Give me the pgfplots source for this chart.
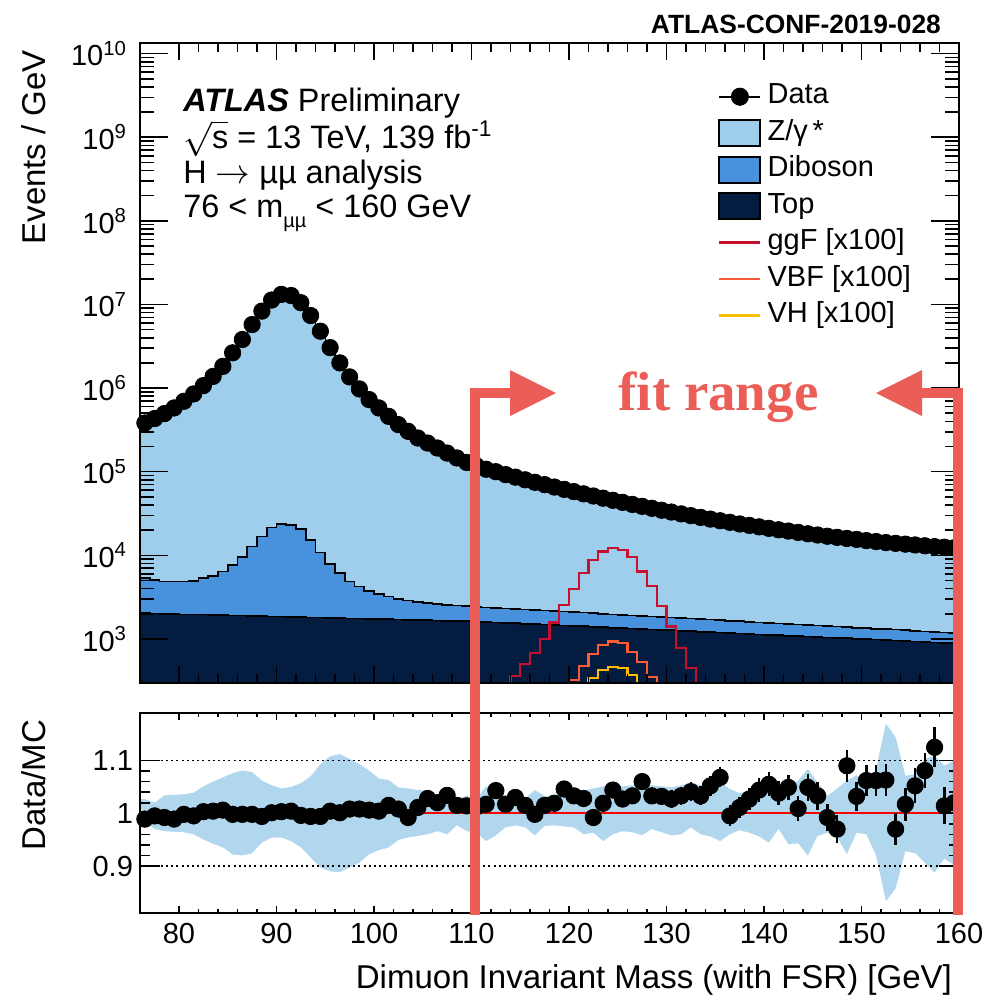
\documentclass[border=0pt]{standalone}
\usepackage{fontspec}
\setmainfont{Liberation Sans}
\newfontfamily\serifbf{Liberation Serif}
\usepackage{pgfplots}
\usepackage{pgfplotstable}
\pgfplotsset{compat=1.18, /pgf/number format/assume math mode=true}

\definecolor{zcol}{RGB}{158,206,235}
\definecolor{dibcol}{RGB}{72,145,220}
\definecolor{topcol}{RGB}{4,28,64}
\definecolor{bandcol}{RGB}{176,215,238}
\definecolor{ggfcol}{RGB}{200,16,46}
\definecolor{vbfcol}{RGB}{255,90,54}
\definecolor{vhcol}{RGB}{255,190,0}
\definecolor{fitred}{RGB}{235,94,88}

\pgfplotstableread{
lo data dib top
76 3.83e5 5.33e3 2.03e3
77 4.32e5 5.09e3 2.01e3
78 4.95e5 4.86e3 2.00e3
79 5.79e5 4.86e3 1.99e3
80 6.95e5 4.86e3 1.97e3
81 8.51e5 4.95e3 1.96e3
82 1.07e6 5.33e3 1.95e3
83 1.38e6 5.68e3 1.93e3
84 1.82e6 6.40e3 1.92e3
85 2.64e6 7.69e3 1.91e3
86 3.81e6 9.51e3 1.90e3
87 5.75e6 1.28e4 1.88e3
88 8.32e6 1.68e4 1.87e3
89 1.13e7 2.15e4 1.86e3
90 1.32e7 2.38e4 1.85e3
91 1.28e7 2.32e4 1.83e3
92 1.05e7 2.06e4 1.82e3
93 7.38e6 1.53e4 1.81e3
94 4.79e6 1.08e4 1.80e3
95 3.05e6 7.83e3 1.78e3
96 2.00e6 6.12e3 1.77e3
97 1.36e6 4.86e3 1.76e3
98 9.77e5 4.23e3 1.75e3
99 7.28e5 3.76e3 1.74e3
100 5.79e5 3.43e3 1.73e3
101 4.59e5 3.21e3 1.72e3
102 3.66e5 3.01e3 1.70e3
103 3.04e5 2.88e3 1.69e3
104 2.53e5 2.77e3 1.68e3
105 2.20e5 2.67e3 1.67e3
106 1.92e5 2.60e3 1.66e3
107 1.67e5 2.55e3 1.65e3
108 1.46e5 2.51e3 1.64e3
109 1.29e5 2.48e3 1.63e3
110 1.18e5 2.45e3 1.62e3
111 1.07e5 2.38e3 1.60e3
112 1.00e5 2.35e3 1.58e3
113 9.23e4 2.31e3 1.56e3
114 8.61e4 2.28e3 1.54e3
115 8.00e4 2.24e3 1.52e3
116 7.47e4 2.21e3 1.51e3
117 7.00e4 2.18e3 1.49e3
118 6.55e4 2.15e3 1.47e3
119 6.15e4 2.12e3 1.45e3
120 5.78e4 2.09e3 1.43e3
121 5.43e4 2.06e3 1.42e3
122 5.12e4 2.03e3 1.40e3
123 4.82e4 2.00e3 1.38e3
124 4.55e4 1.97e3 1.36e3
125 4.30e4 1.94e3 1.35e3
126 4.06e4 1.91e3 1.33e3
127 3.85e4 1.88e3 1.32e3
128 3.65e4 1.86e3 1.30e3
129 3.46e4 1.83e3 1.28e3
130 3.29e4 1.80e3 1.27e3
131 3.13e4 1.78e3 1.25e3
132 2.98e4 1.75e3 1.24e3
133 2.84e4 1.73e3 1.22e3
134 2.71e4 1.70e3 1.21e3
135 2.59e4 1.67e3 1.19e3
136 2.48e4 1.65e3 1.18e3
137 2.37e4 1.63e3 1.16e3
138 2.28e4 1.60e3 1.15e3
139 2.19e4 1.58e3 1.13e3
140 2.10e4 1.56e3 1.12e3
141 2.02e4 1.53e3 1.11e3
142 1.95e4 1.51e3 1.09e3
143 1.88e4 1.49e3 1.08e3
144 1.81e4 1.47e3 1.07e3
145 1.75e4 1.45e3 1.05e3
146 1.69e4 1.43e3 1.04e3
147 1.64e4 1.41e3 1.03e3
148 1.59e4 1.38e3 1.02e3
149 1.55e4 1.36e3 1.00e3
150 1.50e4 1.34e3 991
151 1.46e4 1.32e3 979
152 1.42e4 1.31e3 967
153 1.39e4 1.29e3 955
154 1.36e4 1.27e3 943
155 1.33e4 1.25e3 932
156 1.30e4 1.23e3 921
157 1.27e4 1.21e3 909
158 1.25e4 1.19e3 898
159 1.23e4 1.18e3 887
160 1.23e4 1.18e3 887
}\upper

\pgfplotstableread{
lo ggf vbf vh
112 100 100 100
113 200 100 100
114 361 100 100
115 497 100 100
116 686 100 100
117 991 100 100
118 1570 100 100
119 2550 200 100
120 3930 323 100
121 6120 475 200
122 8830 661 338
123 11100 847 425
124 12200 929 466
125 11600 887 446
126 9510 705 371
127 6400 535 200
128 4320 354 100
129 2480 200 100
130 1410 100 100
131 773 100 100
132 446 100 100
133 200 100 100
134 100 100 100
135 100 100 100
}\sig

\pgfplotstableread{
c r e
76.5 0.989 0.003
77.5 0.995 0.003
78.5 0.992 0.003
79.5 0.989 0.003
80.5 0.998 0.003
81.5 0.995 0.003
82.5 1.003 0.003
83.5 1.004 0.003
84.5 1.006 0.003
85.5 0.998 0.003
86.5 0.998 0.003
87.5 0.998 0.003
88.5 0.994 0.003
89.5 1.001 0.003
90.5 1.003 0.003
91.5 1.004 0.003
92.5 0.996 0.003
93.5 0.994 0.003
94.5 0.994 0.003
95.5 1.004 0.003
96.5 1.001 0.003
97.5 1.008 0.003
98.5 1.008 0.003
99.5 1.006 0.003
100.5 1.004 0.004
101.5 1.015 0.004
102.5 1.008 0.004
103.5 0.992 0.004
104.5 1.011 0.005
105.5 1.028 0.005
106.5 1.020 0.006
107.5 1.034 0.006
108.5 1.015 0.007
109.5 1.014 0.007
110.5 1.012 0.010
111.5 1.017 0.010
112.5 1.043 0.010
113.5 1.017 0.010
114.5 1.030 0.011
115.5 1.015 0.011
116.5 0.998 0.011
117.5 1.015 0.012
118.5 1.019 0.012
119.5 1.046 0.012
120.5 1.033 0.013
121.5 1.028 0.013
122.5 0.992 0.014
123.5 1.019 0.014
124.5 1.044 0.014
125.5 1.027 0.015
126.5 1.033 0.015
127.5 1.060 0.015
128.5 1.033 0.016
129.5 1.032 0.016
130.5 1.027 0.017
131.5 1.033 0.017
132.5 1.041 0.018
133.5 1.033 0.018
134.5 1.052 0.019
135.5 1.068 0.019
136.5 0.995 0.020
137.5 1.011 0.020
138.5 1.027 0.021
139.5 1.044 0.022
140.5 1.055 0.023
141.5 1.038 0.023
142.5 1.049 0.024
143.5 1.009 0.024
144.5 1.049 0.025
145.5 1.033 0.026
146.5 0.992 0.026
147.5 0.970 0.027
148.5 1.090 0.030
149.5 1.032 0.028
150.5 1.062 0.030
151.5 1.062 0.030
152.5 1.063 0.031
153.5 0.970 0.030
154.5 1.017 0.031
155.5 1.052 0.033
156.5 1.081 0.034
157.5 1.125 0.038
158.5 1.014 0.035
159.5 1.020 0.035
}\ratio

\pgfplotstableread{
c up lo
76 1.027 0.983
76.5 1.027 0.983
77.5 1.020 0.970
78.5 1.034 0.966
79.5 1.035 0.965
80.5 1.036 0.964
81.5 1.039 0.960
82.5 1.051 0.950
83.5 1.060 0.942
84.5 1.068 0.935
85.5 1.076 0.922
86.5 1.081 0.920
87.5 1.078 0.924
88.5 1.062 0.944
89.5 1.053 0.954
90.5 1.047 0.954
91.5 1.050 0.947
92.5 1.057 0.935
93.5 1.070 0.916
94.5 1.093 0.897
95.5 1.108 0.890
96.5 1.112 0.888
97.5 1.103 0.897
98.5 1.093 0.906
99.5 1.081 0.922
100.5 1.066 0.930
101.5 1.063 0.935
102.5 1.049 0.949
103.5 1.047 0.954
104.5 1.044 0.957
105.5 1.043 0.960
106.5 1.028 0.966
107.5 1.033 0.960
108.5 1.027 0.977
109.5 1.033 0.966
110.5 1.027 0.963
111.5 1.051 0.947
112.5 1.041 0.958
113.5 1.033 0.973
114.5 1.039 0.977
115.5 1.028 0.973
116.5 1.044 0.958
117.5 1.033 0.976
118.5 1.033 0.977
119.5 1.039 0.975
120.5 1.044 0.973
121.5 1.043 0.960
122.5 1.047 0.963
123.5 1.051 0.947
124.5 1.053 0.960
125.5 1.051 0.966
126.5 1.053 0.964
127.5 1.047 0.958
128.5 1.053 0.970
129.5 1.051 0.964
130.5 1.049 0.958
131.5 1.053 0.960
132.5 1.058 0.973
133.5 1.053 0.960
134.5 1.051 0.956
135.5 1.060 0.947
136.5 1.046 0.960
137.5 1.038 0.968
138.5 1.043 0.963
139.5 1.053 0.956
140.5 1.049 0.944
141.5 1.053 0.970
142.5 1.052 0.941
143.5 1.062 0.943
144.5 1.084 0.919
145.5 1.058 0.957
146.5 1.033 0.963
147.5 1.047 0.954
148.5 1.062 0.922
149.5 1.072 0.963
150.5 1.051 0.960
151.5 1.084 0.919
152.5 1.170 0.833
153.5 1.144 0.857
154.5 1.071 0.928
155.5 1.074 0.924
156.5 1.103 0.906
157.5 1.109 0.887
158.5 1.090 0.914
159.5 1.100 0.901
160 1.100 0.901
}\band

\begin{document}
\begin{tikzpicture}
\path[use as bounding box] (0pt,0pt) rectangle (496pt,-498pt);

% ---------------- upper panel ----------------
\begin{axis}[
  at={(70pt,-341.5pt)}, anchor=south west,
  scale only axis, width=409.5pt, height=320pt,
  xmin=76, xmax=160, ymode=log, ymin=297, ymax=1.34e10,
  xtick={80,90,100,110,120,130,140,150,160}, minor x tick num=4, xticklabels={},
  ytick={1e3,1e4,1e5,1e6,1e7,1e8,1e9,1e10},
  yticklabels={10\textsuperscript{3},10\textsuperscript{4},10\textsuperscript{5},10\textsuperscript{6},10\textsuperscript{7},10\textsuperscript{8},10\textsuperscript{9},10\textsuperscript{10}},
  tick align=inside, tick pos=both, axis on top,
  axis line style={line width=0.9pt},
  tick style={black, line width=0.8pt},
  major tick length=14pt, minor tick length=7pt,
  xtick style={/pgfplots/major tick length=8.5pt,/pgfplots/minor tick length=4.5pt},
  tick label style={font=\fontsize{14.5pt}{16pt}\selectfont},
  yticklabel style={xshift=-3pt},
  ylabel={Events / GeV},
  ylabel style={at={(axis description cs:-0.115,1)}, anchor=base east, font=\fontsize{16.5pt}{18pt}\selectfont},
  legend cell align=left,
  legend style={draw=none, fill=none, inner sep=0pt, outer sep=0pt,
    at={(rel axis cs:0.706,0.938)}, anchor=north west,
    font=\fontsize{14.5pt}{16pt}\selectfont, row sep=4.25pt,
    nodes={inner sep=0pt, text height=10.5pt, text depth=3.5pt},
    /tikz/every odd column/.append style={column sep=3pt}},
]
\addplot[fill=zcol, draw=black, line width=0.7pt, const plot mark left, forget plot]
  table[x=lo, y=data] {\upper} \closedcycle;
\addplot[fill=dibcol, draw=black, line width=0.8pt, const plot mark left, forget plot]
  table[x=lo, y=dib] {\upper} \closedcycle;
\addplot[fill=topcol, draw=black, line width=0.8pt, const plot mark left, forget plot]
  table[x=lo, y=top] {\upper} \closedcycle;
\addplot[ggfcol, line width=1.1pt, const plot mark left, forget plot] table[x=lo, y=ggf] {\sig};
\addplot[vbfcol, line width=1.1pt, const plot mark left, forget plot] table[x=lo, y=vbf] {\sig};
\addplot[vhcol, line width=1.1pt, const plot mark left, forget plot] table[x=lo, y=vh] {\sig};
\addplot[black, only marks, mark=*, mark size=4.1pt, mark options={fill=black}, restrict x to domain=76:160, forget plot]
  table[x expr=\thisrow{lo}+0.5, y=data] {\upper};

\addlegendimage{legend image code/.code={
  \draw[line width=1pt] (0pt,0pt) -- (20.5pt,0pt);
  \draw[line width=1pt] (10.25pt,-4.5pt) -- (10.25pt,4.5pt);
  \fill (10.25pt,0pt) circle (4.3pt);}}
\addlegendentry{Data}
\addlegendimage{legend image code/.code={\filldraw[fill=zcol, draw=black, line width=1pt] (0pt,-6.5pt) rectangle (20.5pt,6.5pt);}}
\addlegendentry{Z/γ\,*}
\addlegendimage{legend image code/.code={\filldraw[fill=dibcol, draw=black, line width=1pt] (0pt,-6.5pt) rectangle (20.5pt,6.5pt);}}
\addlegendentry{Diboson}
\addlegendimage{legend image code/.code={\filldraw[fill=topcol, draw=black, line width=1pt] (0pt,-6.5pt) rectangle (20.5pt,6.5pt);}}
\addlegendentry{Top}
\addlegendimage{legend image code/.code={\draw[ggfcol, line width=1.2pt] (0pt,0pt) -- (20.5pt,0pt);}}
\addlegendentry{ggF [x100]}
\addlegendimage{legend image code/.code={\draw[vbfcol, line width=1.2pt] (0pt,0pt) -- (20.5pt,0pt);}}
\addlegendentry{VBF [x100]}
\addlegendimage{legend image code/.code={\draw[vhcol, line width=1.2pt] (0pt,0pt) -- (20.5pt,0pt);}}
\addlegendentry{VH [x100]}
\end{axis}

% ---------------- ratio panel ----------------
\begin{axis}[
  at={(70pt,-456.5pt)}, anchor=south west,
  scale only axis, width=409.5pt, height=100pt,
  xmin=76, xmax=160, ymin=0.811, ymax=1.19,
  xtick={80,90,100,110,120,130,140,150,160}, minor x tick num=4,
  ytick={0.9,1,1.1}, yticklabels={0.9,1,1.1}, minor y tick num=4,
  tick align=inside, tick pos=both, axis on top,
  axis line style={line width=0.9pt},
  tick style={black, line width=0.8pt},
  major tick length=10pt, minor tick length=5pt,
  xtick style={/pgfplots/major tick length=3.5pt,/pgfplots/minor tick length=2pt},
  tick label style={font=\fontsize{14.5pt}{16pt}\selectfont},
  xticklabel style={yshift=-1.5pt},
  xlabel={Dimuon Invariant Mass (with FSR) [GeV]},
  xlabel style={at={(axis description cs:1,-0.375)}, anchor=base east, font=\fontsize{16.5pt}{18pt}\selectfont},
  ylabel={Data/MC},
  ylabel style={at={(axis description cs:-0.115,1)}, anchor=base east, font=\fontsize{16.5pt}{18pt}\selectfont},
]
\addplot[fill=bandcol, draw=none, forget plot] table[x=c, y=up] {\band} \closedcycle;
\addplot[fill=white, draw=none, forget plot] table[x=c, y=lo] {\band} \closedcycle;
\addplot[black, line width=0.8pt, dash pattern=on 1pt off 1.6pt, forget plot] coordinates {(76,1.1) (160,1.1)};
\addplot[black, line width=0.8pt, dash pattern=on 1pt off 1.6pt, forget plot] coordinates {(76,0.9) (160,0.9)};
\addplot[red, line width=0.9pt, forget plot] coordinates {(76,1) (160,1)};
\addplot[black, only marks, mark=*, mark size=4.1pt, mark options={fill=black},
  error bars/.cd, y dir=both, y explicit, error mark=none,
  error bar style={line width=1.3pt}]
  table[x=c, y=r, y error=e] {\ratio};
\end{axis}

% ---------------- text ----------------
\node[anchor=base east, font=\bfseries\fontsize{13.2pt}{15pt}\selectfont] at (474pt,-16.5pt) {ATLAS-CONF-2019-028};
\node[anchor=north west, align=left, inner sep=0pt, font=\fontsize{16.2pt}{17.23pt}\selectfont] at (91.5pt,-44.0pt)
 {\lineskiplimit=-50pt\lineskip=0pt\textbf{\textit{ATLAS}} Preliminary\\
  $\sqrt{\mbox{s}}$ = 13 TeV, 139 fb\textsuperscript{-1}\\
  H $\rightarrow$ µµ analysis\\
  76 < m\raisebox{-0.3em}{\fontsize{10pt}{10pt}\selectfont µµ} < 160 GeV};

% ---------------- fit range annotation ----------------
\fill[fitred] (235pt,-194pt) rectangle (240pt,-457.5pt);
\fill[fitred] (235pt,-194pt) rectangle (256pt,-199pt);
\fill[fitred] (255pt,-185pt) -- (278pt,-196.5pt) -- (255pt,-208pt) -- cycle;
\fill[fitred] (476.5pt,-194pt) rectangle (481.5pt,-457.5pt);
\fill[fitred] (460pt,-194pt) rectangle (481.5pt,-199pt);
\fill[fitred] (461pt,-185pt) -- (438pt,-196.5pt) -- (461pt,-208pt) -- cycle;
\node[anchor=base west, inner sep=0pt, text=fitred, font=\serifbf\bfseries\fontsize{27.5pt}{30pt}\selectfont] at (309pt,-205pt) {fit range};
\end{tikzpicture}
\end{document}
